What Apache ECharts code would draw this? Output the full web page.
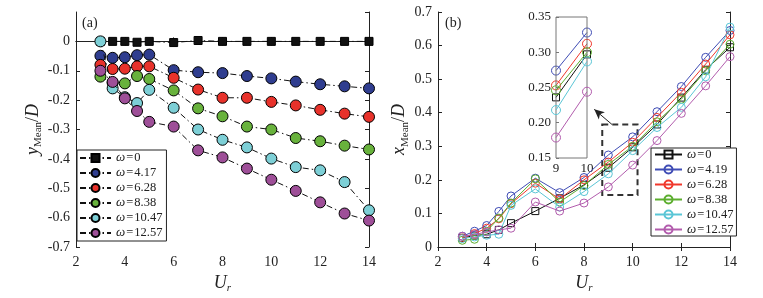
<!DOCTYPE html>
<html>
<head>
<meta charset="utf-8">
<script src="https://cdn.jsdelivr.net/npm/echarts@6/dist/echarts.min.js"></script>
<style>
  html, body { margin: 0; padding: 0; background: #fff; }
  #chart { width: 763px; height: 298px; }
</style>
</head>
<body>
<div id="chart"></div>
<script>
// reduced velocity
const ur = [3, 3.5, 4, 4.5, 5, 6, 7, 8, 9, 10, 11, 12, 13, 14];

// (a) y_Mean / D
const yW0 = [0, 0, 0, -0.003, 0, -0.004, 0.003, 0, 0, 0, 0, 0, 0, 0];
const yW417 = [-0.049, -0.056, -0.054, -0.047, -0.045, -0.098, -0.105, -0.108, -0.118, -0.126, -0.137, -0.146, -0.153, -0.16];
const yW628 = [-0.08, -0.094, -0.093, -0.085, -0.085, -0.124, -0.164, -0.192, -0.192, -0.206, -0.218, -0.233, -0.246, -0.257];
const yW838 = [-0.12, -0.141, -0.143, -0.118, -0.128, -0.167, -0.228, -0.255, -0.29, -0.30, -0.329, -0.34, -0.355, -0.368];
const yW1047 = [0, -0.16, -0.19, -0.21, -0.165, -0.226, -0.30, -0.335, -0.361, -0.399, -0.428, -0.439, -0.479, -0.575];
const yW1257 = [-0.1, -0.138, -0.194, -0.237, -0.274, -0.29, -0.371, -0.395, -0.433, -0.471, -0.509, -0.548, -0.586, -0.61];

// (b) x_Mean / D
const xW0 = [0.027, 0.034, 0.038, 0.051, 0.071, 0.107, 0.145, 0.185, 0.236, 0.297, 0.365, 0.445, 0.528, 0.595];
const xW419 = [0.032, 0.047, 0.064, 0.106, 0.152, 0.205, 0.162, 0.207, 0.274, 0.328, 0.403, 0.478, 0.565, 0.645];
const xW628 = [0.027, 0.04, 0.056, 0.084, 0.129, 0.19, 0.143, 0.2, 0.253, 0.312, 0.386, 0.461, 0.545, 0.632];
const xW838 = [0.02, 0.023, 0.047, 0.086, 0.131, 0.203, 0.134, 0.183, 0.246, 0.3, 0.373, 0.44, 0.525, 0.604];
const xW1047 = [0.025, 0.03, 0.035, 0.038, 0.124, 0.173, 0.119, 0.165, 0.218, 0.287, 0.356, 0.416, 0.507, 0.655];
const xW1257 = [0.032, 0.037, 0.045, 0.051, 0.056, 0.134, 0.107, 0.131, 0.179, 0.244, 0.317, 0.398, 0.48, 0.567];

const omegaA = ['0', '4.17', '6.28', '8.38', '10.47', '12.57'];
const omegaB = ['0', '4.19', '6.28', '8.38', '10.47', '12.57'];

// zoom box + arrow (data coords)
const zoomBox = [[8.75, 0.365], [10.2, 0.155]];
const zoomArrow = [[9.15, 0.365], [8.42, 0.41]];

const fillA = ['#111111', '#2f3d8f', '#e8322b', '#68b23c', '#7dcfd6', '#9e4f98'];
const lineB = ['#111111', '#3f4cb5', '#f0382c', '#5cae2f', '#5ac6d6', '#b25cad'];

const FONT = 'Liberation Serif';
const dashDot = [6, 3, 1.5, 3];

const pair = (xs, ys) => xs.map((x, i) => [x, ys[i]]);
const yA = [yW0, yW417, yW628, yW838, yW1047, yW1257];
const xB = [xW0, xW419, xW628, xW838, xW1047, xW1257];

const nameA = omegaA.map(w => 'ω = ' + w);
const nameB = omegaB.map(w => 'ω = ' + w + '\u200b');

const series = [];
yA.forEach((ys, i) => {
    series.push({
        name: nameA[i],
        type: 'line',
        xAxisIndex: 0, yAxisIndex: 0,
        data: pair(ur, ys),
        symbol: i === 0 ? 'rect' : 'circle',
        symbolSize: i === 0 ? 8 : 11,
        itemStyle: { color: fillA[i], borderColor: '#000', borderWidth: 1 },
        lineStyle: { color: '#111', width: 1, type: dashDot },
        z: 2 + i
    });
});
xB.forEach((xs, i) => {
    const s = {
        name: nameB[i],
        type: 'line',
        xAxisIndex: 2, yAxisIndex: 2,
        data: pair(ur, xs),
        symbol: i === 0 ? 'rect' : 'circle',
        symbolSize: i === 0 ? 7 : 8,
        itemStyle: { color: 'rgba(0,0,0,0)', borderColor: lineB[i], borderWidth: 1 },
        lineStyle: { color: lineB[i], width: 1 },
        z: 2 + i
    };
    if (i === 0) {
        s.markArea = {
            silent: true,
            itemStyle: { color: 'rgba(0,0,0,0)', borderColor: '#333', borderWidth: 2, borderType: [6, 4] },
            data: [[{ coord: zoomBox[0] }, { coord: zoomBox[1] }]]
        };
        s.markLine = {
            silent: true,
            symbol: ['none', 'arrow'],
            symbolSize: [7, 10],
            label: { show: false },
            lineStyle: { color: '#222', width: 1, type: 'solid' },
            data: [[{ coord: zoomArrow[0] }, { coord: zoomArrow[1] }]]
        };
    }
    series.push(s);
    // inset
    series.push({
        name: 'inset' + i,
        type: 'line',
        xAxisIndex: 4, yAxisIndex: 4,
        data: pair(ur, xs).filter(p => p[0] >= 9 && p[0] <= 10),
        symbol: i === 0 ? 'rect' : 'circle',
        symbolSize: i === 0 ? 7 : 9,
        itemStyle: { color: 'rgba(0,0,0,0)', borderColor: lineB[i], borderWidth: 1 },
        lineStyle: { color: lineB[i], width: 1 },
        z: 2 + i
    });
});

const labelStyle = { fontFamily: FONT, fontSize: 14, color: '#222' };
const lineAx = { lineStyle: { color: '#222', width: 1 } };
const tickIn = { inside: true, length: 4, lineStyle: { color: '#222' } };

function xAxes(grid) {
    return [
        {
            gridIndex: grid, type: 'value', min: 2, max: 14, interval: 2,
            axisLine: lineAx, axisTick: tickIn, splitLine: { show: false },
            axisLabel: Object.assign({ margin: 8 }, labelStyle),
            name: '{i|U}{s|r}', nameLocation: 'middle', nameGap: 22,
            nameTextStyle: {
                rich: {
                    i: { fontFamily: FONT, fontStyle: 'italic', fontSize: 18, color: '#222', lineHeight: 22 },
                    s: { fontFamily: FONT, fontStyle: 'italic', fontSize: 11, color: '#222', lineHeight: 11, verticalAlign: 'bottom' }
                }
            }
        },
        {
            gridIndex: grid, type: 'value', position: 'top', min: 2, max: 14, interval: 2,
            axisLine: lineAx, axisTick: tickIn, axisLabel: { show: false }, splitLine: { show: false }
        }
    ];
}

function yName(v) {
    return '{i|' + v + '}{s|Mean}{n|/}{i|D}';
}
const yNameRich = {
    i: { fontFamily: FONT, fontStyle: 'italic', fontSize: 18, color: '#222', lineHeight: 22 },
    n: { fontFamily: FONT, fontSize: 18, color: '#222', lineHeight: 22 },
    s: { fontFamily: FONT, fontSize: 11, color: '#222', lineHeight: 11, verticalAlign: 'bottom' }
};

const legendRich = {
    w: { fontFamily: FONT, fontStyle: 'italic', fontSize: 13, color: '#222', lineHeight: 14 },
    t: { fontFamily: FONT, fontSize: 12.5, color: '#222', lineHeight: 14 }
};
const legendFmt = name => {
    const v = name.split('=')[1].replace('\u200b', '').trim();
    return '{w|ω}{t|\u200a=\u200a' + v + '}';
};

const option = {
    backgroundColor: '#fff',
    animation: false,
    grid: [
        { left: 76, right: 394, top: 12, bottom: 51, outerBoundsMode: 'none' },
        { left: 438, right: 33, top: 12, bottom: 51, outerBoundsMode: 'none' },
        { left: 556, top: 17, width: 31, height: 141, show: true, borderColor: '#777', borderWidth: 1, outerBoundsMode: 'none', z: 5 }
    ],
    xAxis: xAxes(0).concat(xAxes(1)).concat([{
        gridIndex: 2, type: 'value', min: 9, max: 10, interval: 1,
        axisLine: { show: false }, axisTick: { show: false }, splitLine: { show: false },
        axisLabel: Object.assign({ margin: 4 }, labelStyle, { fontSize: 13 })
    }]),
    yAxis: [
        {
            gridIndex: 0, type: 'value', min: -0.7, max: 0.1, interval: 0.1,
            axisLine: lineAx, axisTick: tickIn, splitLine: { show: false },
            axisLabel: Object.assign({
                margin: 6, showMaxLabel: false,
                formatter: v => Math.abs(v) < 1e-9 ? '0' : v.toFixed(1)
            }, labelStyle),
            name: yName('y'), nameLocation: 'middle', nameRotate: 90, nameGap: 23,
            nameTextStyle: { rich: yNameRich }
        },
        {
            gridIndex: 0, type: 'value', position: 'right', min: -0.7, max: 0.1, interval: 0.1,
            axisLine: lineAx, axisTick: tickIn, axisLabel: { show: false }, splitLine: { show: false }
        },
        {
            gridIndex: 1, type: 'value', min: 0, max: 0.7, interval: 0.1,
            axisLine: lineAx, axisTick: tickIn, splitLine: { show: false },
            axisLabel: Object.assign({
                margin: 6,
                formatter: v => Math.abs(v) < 1e-9 ? '0' : v.toFixed(1)
            }, labelStyle),
            name: yName('x'), nameLocation: 'middle', nameRotate: 90, nameGap: 25,
            nameTextStyle: { rich: yNameRich }
        },
        {
            gridIndex: 1, type: 'value', position: 'right', min: 0, max: 0.7, interval: 0.1,
            axisLine: lineAx, axisTick: tickIn, axisLabel: { show: false }, splitLine: { show: false }
        },
        {
            gridIndex: 2, type: 'value', min: 0.15, max: 0.35, interval: 0.05,
            axisLine: { show: false }, axisTick: { inside: true, length: 3, lineStyle: { color: '#777' } },
            splitLine: { show: false },
            axisLabel: Object.assign({ margin: 5, formatter: v => v.toFixed(2) }, labelStyle, { fontSize: 13 })
        }
    ],
    legend: [
        {
            data: nameA, orient: 'vertical', left: 77, top: 150,
            itemWidth: 31, itemHeight: 10, itemGap: 2,
            padding: [1.5, 4, 1.5, 2],
            backgroundColor: '#fff', borderColor: '#222', borderWidth: 1,
            formatter: legendFmt, textStyle: { rich: legendRich },
            selectedMode: false
        },
        {
            data: nameB, orient: 'vertical', left: 651, top: 148,
            itemWidth: 27, itemHeight: 10, itemGap: 2,
            padding: [0, 3, 0, 3],
            backgroundColor: '#fff', borderColor: '#222', borderWidth: 1,
            formatter: legendFmt, textStyle: { rich: legendRich },
            selectedMode: false
        }
    ],
    graphic: [
        { type: 'text', left: 82, top: 16, style: { text: '(a)', font: '14px "Liberation Serif"', fill: '#222' } },
        { type: 'text', left: 445, top: 16, style: { text: '(b)', font: '14px "Liberation Serif"', fill: '#222' } }
    ],
    series: series
};

const chart = echarts.init(document.getElementById('chart'), null, { renderer: 'canvas' });
chart.setOption(option);
</script>
</body>
</html>
